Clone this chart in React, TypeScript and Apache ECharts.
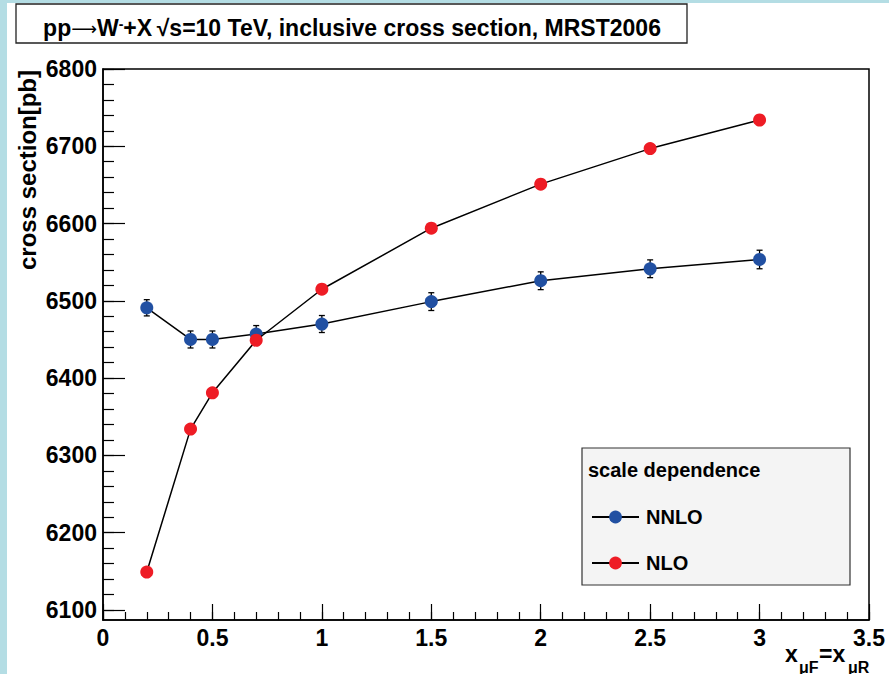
import React, { useEffect, useRef } from "react";
import * as echarts from "echarts";

const FONT = '"Liberation Sans", Arial, Helvetica, sans-serif';

// scale factor x = mu_F = mu_R
const scaleX = [0.2, 0.4, 0.5, 0.7, 1, 1.5, 2, 2.5, 3];
// NNLO cross section [pb] and its errors
const nnloValues = [6491, 6450, 6450, 6457, 6470, 6499, 6526, 6541.5, 6553.5];
const nnloErrors = [10.5, 11, 11, 11, 11, 11.5, 11.5, 11.5, 12];
// NLO cross section [pb]
const nloValues = [6149, 6334, 6381, 6449, 6515, 6594, 6651, 6697, 6734];

// axis tick labels
const yMajorTicks = [6100, 6200, 6300, 6400, 6500, 6600, 6700, 6800];
const xMajorTicks = [0, 0.5, 1, 1.5, 2, 2.5, 3, 3.5];

const yMinorTicks: number[] = [];
for (let v = 6100; v <= 6800; v += 20) yMinorTicks.push(v);
const xMinorTicks: number[] = [];
for (let i = 0; i <= 35; i++) xMinorTicks.push(Math.round(i) / 10);

const BLUE = "#2150a2";
const RED = "#ee1c25";

export default function App() {
  const ref = useRef<HTMLDivElement>(null);
  useEffect(() => {
    if (!ref.current) return;
    const chart = echarts.init(ref.current, null, { renderer: "svg" });
    const nnloData = scaleX.map((x, i) => [x, nnloValues[i]]);
    const nloData = scaleX.map((x, i) => [x, nloValues[i]]);
    const errData = scaleX.map((x, i) => [x, nnloValues[i], nnloErrors[i]]);

    const axisLine = { show: true, lineStyle: { color: "#000", width: 1.5 } };
    const option: any = {
      animation: false,
      backgroundColor: "#fff",
      grid: {
        left: 103,
        right: 20,
        top: 69,
        bottom: 54,
        show: true,
        borderColor: "#000",
        borderWidth: 1.5,
        backgroundColor: "transparent",
      },
      xAxis: [
        {
          type: "value",
          min: 0,
          max: 3.5,
          position: "bottom",
          axisLine,
          splitLine: { show: false },
          axisTick: {
            show: true,
            inside: true,
            length: 16,
            customValues: xMajorTicks,
            lineStyle: { color: "#000", width: 1.2 },
          },
          axisLabel: {
            customValues: xMajorTicks,
            formatter: (v: number) => String(v),
            fontFamily: FONT,
            fontWeight: "bold",
            fontSize: 23,
            color: "#000",
            margin: 6,
          },
        },
        {
          type: "value",
          min: 0,
          max: 3.5,
          position: "bottom",
          axisLine: { show: false },
          splitLine: { show: false },
          axisTick: {
            show: true,
            inside: true,
            length: 8,
            customValues: xMinorTicks,
            lineStyle: { color: "#000", width: 1.2 },
          },
          axisLabel: { show: false },
        },
      ],
      yAxis: [
        {
          type: "value",
          min: 6087,
          max: 6800,
          position: "left",
          axisLine,
          splitLine: { show: false },
          axisTick: {
            show: true,
            inside: true,
            length: 22,
            customValues: yMajorTicks,
            lineStyle: { color: "#000", width: 1.2 },
          },
          axisLabel: {
            customValues: yMajorTicks,
            formatter: (v: number) => String(v),
            fontFamily: FONT,
            fontWeight: "bold",
            fontSize: 23,
            color: "#000",
            margin: 6,
          },
        },
        {
          type: "value",
          min: 6087,
          max: 6800,
          position: "left",
          axisLine: { show: false },
          splitLine: { show: false },
          axisTick: {
            show: true,
            inside: true,
            length: 11,
            customValues: yMinorTicks,
            lineStyle: { color: "#000", width: 1.2 },
          },
          axisLabel: { show: false },
        },
      ],
      legend: {
        data: ["NNLO", "NLO"],
        orient: "vertical",
        left: 591,
        top: 507,
        padding: 0,
        itemWidth: 47,
        itemHeight: 16,
        itemGap: 26,
        textStyle: {
          fontFamily: FONT,
          fontWeight: "bold",
          fontSize: 20,
          color: "#000",
          padding: [0, 0, 0, 2],
        },
      },
      series: [
        {
          name: "NNLO errors",
          type: "custom",
          xAxisIndex: 0,
          yAxisIndex: 0,
          z: 1,
          data: errData,
          renderItem: (params: any, api: any) => {
            const x = api.value(0);
            const y = api.value(1);
            const e = api.value(2);
            const p = api.coord([x, y + e]);
            const q = api.coord([x, y - e]);
            const cap = 3;
            const st = { stroke: "#000", lineWidth: 1.3 };
            return {
              type: "group",
              children: [
                { type: "line", shape: { x1: p[0], y1: p[1], x2: q[0], y2: q[1] }, style: st },
                { type: "line", shape: { x1: p[0] - cap, y1: p[1], x2: p[0] + cap, y2: p[1] }, style: st },
                { type: "line", shape: { x1: q[0] - cap, y1: q[1], x2: q[0] + cap, y2: q[1] }, style: st },
              ],
            };
          },
        },
        {
          name: "NNLO",
          type: "line",
          xAxisIndex: 0,
          yAxisIndex: 0,
          data: nnloData,
          symbol: "circle",
          symbolSize: 13,
          z: 3,
          lineStyle: { color: "#000", width: 1.5 },
          itemStyle: { color: BLUE, borderWidth: 0 },
        },
        {
          name: "NLO",
          type: "line",
          xAxisIndex: 0,
          yAxisIndex: 0,
          data: nloData,
          symbol: "circle",
          symbolSize: 13,
          z: 4,
          lineStyle: { color: "#000", width: 1.5 },
          itemStyle: { color: RED, borderWidth: 0 },
        },
      ],
      graphic: [
        { type: "rect", shape: { x: 0, y: 0, width: 7, height: 674 }, style: { fill: "#b4dde4" }, z: 0 },
        { type: "rect", shape: { x: 0, y: 0, width: 889, height: 3 }, style: { fill: "#b4dde4" }, z: 0 },
        {
          type: "rect",
          shape: { x: 16, y: 4, width: 671, height: 39 },
          style: { fill: "#fff", stroke: "#222", lineWidth: 1.3 },
          z: 1,
        },
        {
          type: "text",
          x: 352,
          y: 28,
          z: 2,
          style: {
            text: "{a|pp}{r|⟶}{a|W}{s|-}{a|+X\u2009√s=10 TeV, inclusive cross section, MRST2006}",
            align: "center",
            verticalAlign: "middle",
            rich: {
              a: { fontFamily: FONT, fontWeight: "bold", fontSize: 23, fill: "#000" },
              r: { fontFamily: '"DejaVu Sans"', fontWeight: "normal", fontSize: 18, fill: "#000" },
              s: { fontFamily: FONT, fontWeight: "bold", fontSize: 14, fill: "#000", verticalAlign: "top" },
            },
          },
        },
        {
          type: "text",
          x: 27,
          y: 170,
          rotation: Math.PI / 2,
          z: 2,
          style: {
            text: "cross section[pb]",
            align: "center",
            verticalAlign: "middle",
            fontFamily: FONT,
            fontWeight: "bold",
            fontSize: 24,
            fill: "#000",
          },
        },
        { type: "text", x: 785, y: 654, z: 2, style: { text: "x", align: "left", verticalAlign: "middle", fontFamily: FONT, fontWeight: "bold", fontSize: 23, fill: "#000" } },
        { type: "text", x: 799, y: 667, z: 2, style: { text: "μF", align: "left", verticalAlign: "middle", fontFamily: FONT, fontWeight: "bold", fontSize: 16, fill: "#000" } },
        { type: "text", x: 819, y: 654, z: 2, style: { text: "=x", align: "left", verticalAlign: "middle", fontFamily: FONT, fontWeight: "bold", fontSize: 23, fill: "#000" } },
        { type: "text", x: 848, y: 667, z: 2, style: { text: "μR", align: "left", verticalAlign: "middle", fontFamily: FONT, fontWeight: "bold", fontSize: 16, fill: "#000" } },
        {
          type: "rect",
          shape: { x: 582, y: 448, width: 268, height: 137 },
          style: { fill: "#f4f4f4", stroke: "#333", lineWidth: 1.2 },
          z: 1,
        },
        {
          type: "text",
          x: 588,
          y: 470,
          z: 2,
          style: {
            text: "scale dependence",
            align: "left",
            verticalAlign: "middle",
            fontFamily: FONT,
            fontWeight: "bold",
            fontSize: 20,
            fill: "#000",
          },
        },
      ],
    };
    chart.setOption(option);
    return () => chart.dispose();
  }, []);
  return (
    <div
      ref={ref}
      style={{ position: "fixed", left: 0, top: 0, width: 889, height: 674, background: "#fff" }}
    />
  );
}
